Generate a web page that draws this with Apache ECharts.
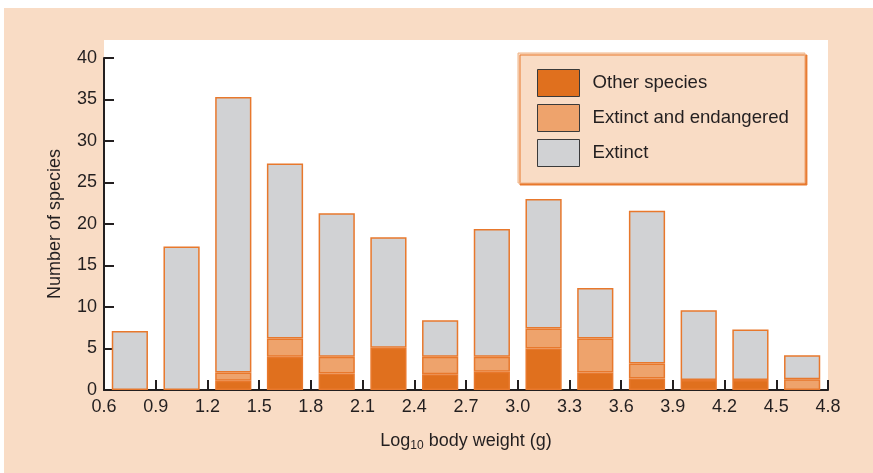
<!DOCTYPE html>
<html>
<head>
<meta charset="utf-8">
<script src="https://cdn.jsdelivr.net/npm/echarts@6/dist/echarts.min.js"></script>
<style>
  html, body { margin: 0; padding: 0; background: #fff; }
  #chart { width: 873px; height: 473px; }
</style>
</head>
<body>
<div id="chart"></div>
<script>
// bins of log10 body weight (bar centres)
const binCentres = ['0.75', '1.05', '1.35', '1.65', '1.95', '2.25', '2.55', '2.85', '3.15', '3.45', '3.75', '4.05', '4.35', '4.65'];
// stacked values
const otherSpecies = [0, 0, 1.1, 4.0, 2.0, 5.1, 1.9, 2.2, 5.0, 2.1, 1.4, 1.2, 1.2, 0];
const extinctEndangered = [0, 0, 1.0, 2.2, 2.0, 0, 2.1, 1.8, 2.4, 4.1, 1.8, 0, 0, 1.3];
const totals = [7.1, 17.3, 35.3, 27.3, 21.3, 18.4, 8.4, 19.4, 23.0, 12.3, 21.6, 9.6, 7.3, 4.2];
const extinctOnly = totals.map((t, i) => +(t - otherSpecies[i] - extinctEndangered[i]).toFixed(2));

const ink = '#231f20';
const peach = '#f9dcc5';
const edge = '#e8782c';
const font = 'Liberation Sans, Arial, Helvetica, sans-serif';

const chart = echarts.init(document.getElementById('chart'), null, { renderer: 'canvas' });

function nz(arr) { return arr.map(v => (v === 0 ? '-' : v)); }

function barSeries(name, data, color) {
  return {
    name,
    type: 'bar',
    stack: 'all',
    xAxisIndex: 0,
    barWidth: '70%',
    data: nz(data),
    itemStyle: { color, borderColor: edge, borderWidth: 1.5 },
    emphasis: { disabled: true }
  };
}

chart.setOption({
  animation: false,
  backgroundColor: '#ffffff',
  textStyle: { fontFamily: font },
  graphic: {
    elements: [
      { type: 'rect', z: -20, shape: { x: 4, y: 8, width: 873, height: 473 }, style: { fill: peach } },
      { type: 'rect', z: -19, shape: { x: 104, y: 40, width: 724, height: 350 }, style: { fill: '#ffffff' } }
    ]
  },
  grid: { left: 104, right: 45, top: 58, bottom: 83 },
  legend: {
    orient: 'vertical',
    left: 518,
    top: 53,
    padding: [16, 16, 16, 19],
    itemWidth: 42,
    itemHeight: 27,
    itemGap: 7,
    icon: 'rect',
    backgroundColor: peach,
    borderColor: '#f0b487',
    borderWidth: 1,
    shadowColor: edge,
    shadowOffsetX: 2,
    shadowOffsetY: 2,
    shadowBlur: 0,
    itemStyle: { borderColor: '#3a3a3a', borderWidth: 1 },
    textStyle: { fontSize: 18.6, color: ink, fontFamily: font, padding: [0, 0, 0, 8] },
    data: ['Other species', 'Extinct and endangered', 'Extinct']
  },
  xAxis: [
    {
      type: 'category',
      data: binCentres,
      show: false
    },
    {
      type: 'value',
      position: 'bottom',
      min: 0.6,
      max: 4.8,
      interval: 0.3,
      axisLine: { show: true, lineStyle: { color: ink, width: 2 } },
      axisTick: { show: true, inside: true, length: 10, lineStyle: { color: ink, width: 2 } },
      axisLabel: {
        color: ink, fontSize: 18, fontFamily: font, margin: 8,
        formatter: v => v.toFixed(1)
      },
      splitLine: { show: false },
      name: '{a|Log}{s|10}{a| body weight (g)}',
      nameLocation: 'middle',
      nameGap: 40,
      nameTextStyle: {
        rich: {
          a: { fontSize: 18, color: ink, fontFamily: font, lineHeight: 22 },
          s: { fontSize: 12, color: ink, fontFamily: font, lineHeight: 22, verticalAlign: 'bottom' }
        }
      }
    }
  ],
  yAxis: {
    type: 'value',
    min: 0,
    max: 40,
    interval: 5,
    axisLine: { show: true, lineStyle: { color: ink, width: 2 } },
    axisTick: { show: true, inside: true, length: 10, lineStyle: { color: ink, width: 2 } },
    axisLabel: { color: ink, fontSize: 18, fontFamily: font, margin: 7 },
    splitLine: { show: false },
    name: 'Number of species',
    nameLocation: 'middle',
    nameGap: 40,
    nameRotate: 90,
    nameTextStyle: { fontSize: 18, color: ink, fontFamily: font }
  },
  series: [
    barSeries('Other species', otherSpecies, '#e0701e'),
    barSeries('Extinct and endangered', extinctEndangered, '#eea36c'),
    barSeries('Extinct', extinctOnly, '#d1d2d4')
  ]
});
</script>
</body>
</html>
